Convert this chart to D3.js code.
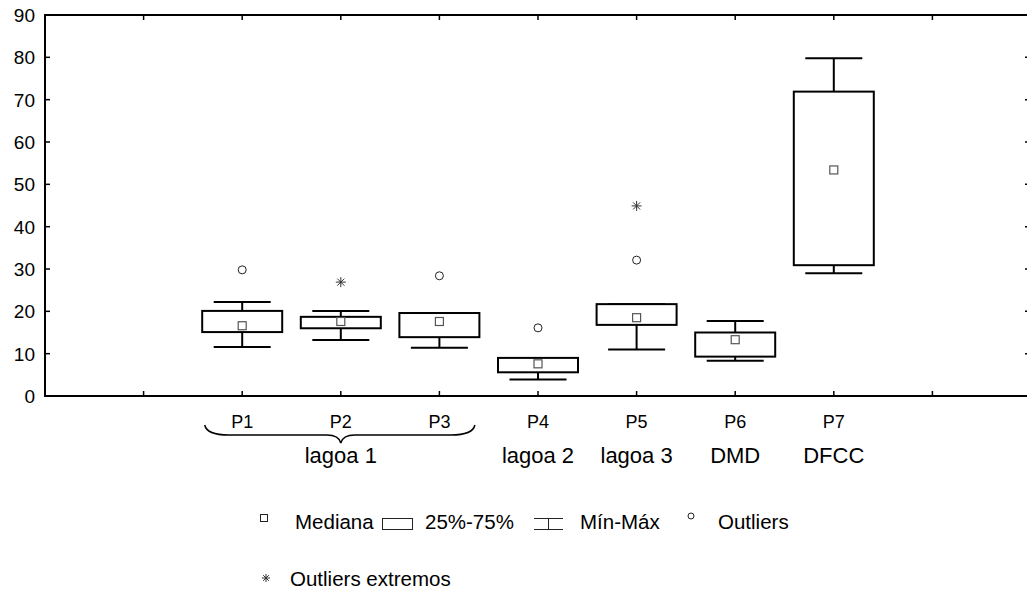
<!DOCTYPE html>
<html>
<head>
<meta charset="utf-8">
<script src="https://cdn.jsdelivr.net/npm/d3@7"></script>
<style>
  html, body { margin: 0; padding: 0; background: #fff; }
  svg { display: block; font-family: "Liberation Sans", Arial, sans-serif; }
</style>
</head>
<body>
<div id="chart"></div>
<script>
// box plot per sampling point
const points = ["P1", "P2", "P3", "P4", "P5", "P6", "P7"];
const groups = ["", "", "", "lagoa 2", "lagoa 3", "DMD", "DFCC"];
const minVals = [11.6, 13.2, 11.4, 3.9, 11.0, 8.3, 29.0];
const q1Vals = [15.1, 16.0, 13.9, 5.6, 16.8, 9.3, 30.9];
const medVals = [16.6, 17.6, 17.6, 7.6, 18.5, 13.3, 53.4];
const q3Vals = [20.1, 18.7, 19.6, 9.0, 21.7, 15.0, 71.9];
const maxVals = [22.2, 20.1, 19.6, 9.0, 21.7, 17.7, 79.8];
const outliers = [[29.8], [], [28.4], [16.1], [32.1], [], []];
const extremes = [[], [26.9], [], [], [44.9], [], []];
const yTicks = [0, 10, 20, 30, 40, 50, 60, 70, 80, 90];

(function () {
  const width = 1027;
  const height = 591;
  const left = 45, top = 15, bottom = 396, right = 1031;

  const svg = d3.select("#chart").append("svg")
    .attr("width", width).attr("height", height);

  const x = d3.scaleLinear().domain([0, 10]).range([left, right]);
  const y = d3.scaleLinear().domain([0, 90]).range([bottom, top]);
  const pos = (i) => x(i + 2);

  // frame
  svg.append("rect")
    .attr("x", left).attr("y", top)
    .attr("width", right - left).attr("height", bottom - top)
    .attr("fill", "none").attr("stroke", "#000").attr("stroke-width", 2);

  const tickX = d3.range(1, 10);
  svg.append("g").selectAll("line").data(tickX).join("line")
    .attr("x1", (d) => x(d)).attr("x2", (d) => x(d))
    .attr("y1", bottom).attr("y2", bottom - 5)
    .attr("stroke", "#000").attr("stroke-width", 1.5);
  svg.append("g").selectAll("line").data(tickX).join("line")
    .attr("x1", (d) => x(d)).attr("x2", (d) => x(d))
    .attr("y1", top).attr("y2", top + 5)
    .attr("stroke", "#000").attr("stroke-width", 1.5);

  svg.append("g").selectAll("line").data(yTicks.slice(1, -1)).join("line")
    .attr("x1", left).attr("x2", left + 5)
    .attr("y1", (d) => y(d)).attr("y2", (d) => y(d))
    .attr("stroke", "#000").attr("stroke-width", 1.5);
  svg.append("g").selectAll("line").data(yTicks.slice(1, -1)).join("line")
    .attr("x1", right).attr("x2", right - 6)
    .attr("y1", (d) => y(d)).attr("y2", (d) => y(d))
    .attr("stroke", "#000").attr("stroke-width", 1.5);

  svg.append("g").selectAll("text").data(yTicks).join("text")
    .attr("x", 35).attr("y", (d) => y(d) + 7)
    .attr("text-anchor", "end").attr("font-size", 19)
    .text((d) => d);

  // boxes
  const boxW = 80, capW = 57;
  const g = svg.append("g");
  points.forEach((p, i) => {
    const cx = pos(i);
    g.append("line")
      .attr("x1", cx).attr("x2", cx)
      .attr("y1", y(maxVals[i])).attr("y2", y(minVals[i]))
      .attr("stroke", "#000").attr("stroke-width", 2);
    [minVals[i], maxVals[i]].forEach((v) => {
      g.append("line")
        .attr("x1", cx - capW / 2).attr("x2", cx + capW / 2)
        .attr("y1", y(v)).attr("y2", y(v))
        .attr("stroke", "#000").attr("stroke-width", 2);
    });
    g.append("rect")
      .attr("x", cx - boxW / 2).attr("y", y(q3Vals[i]))
      .attr("width", boxW).attr("height", y(q1Vals[i]) - y(q3Vals[i]))
      .attr("fill", "#fff").attr("stroke", "#000").attr("stroke-width", 2);
    g.append("rect")
      .attr("x", cx - 4).attr("y", y(medVals[i]) - 4)
      .attr("width", 8).attr("height", 8)
      .attr("fill", "#fff").attr("stroke", "#555").attr("stroke-width", 1.2);
    outliers[i].forEach((v) => {
      g.append("circle").attr("cx", cx).attr("cy", y(v)).attr("r", 4)
        .attr("fill", "none").attr("stroke", "#222").attr("stroke-width", 1);
    });
    extremes[i].forEach((v) => {
      drawStar(g, cx, y(v), 5);
    });
  });

  function drawStar(sel, cx, cy, r) {
    const s = sel.append("g").attr("stroke", "#333").attr("stroke-width", 1);
    [0, 45, 90, 135].forEach((a) => {
      const rad = (a * Math.PI) / 180;
      s.append("line")
        .attr("x1", cx - r * Math.cos(rad)).attr("y1", cy - r * Math.sin(rad))
        .attr("x2", cx + r * Math.cos(rad)).attr("y2", cy + r * Math.sin(rad));
    });
  }

  // category labels
  svg.append("g").selectAll("text").data(points).join("text")
    .attr("x", (d, i) => pos(i)).attr("y", 428)
    .attr("text-anchor", "middle").attr("font-size", 18)
    .text((d) => d);
  svg.append("g").selectAll("text").data(groups).join("text")
    .attr("x", (d, i) => pos(i)).attr("y", 463)
    .attr("text-anchor", "middle").attr("font-size", 22)
    .text((d) => d);
  svg.append("text")
    .attr("x", pos(1)).attr("y", 463)
    .attr("text-anchor", "middle").attr("font-size", 22)
    .text("lagoa 1");

  // brace under P1-P3
  const bl = x(3 - 1.38), br = x(3 + 1.36), bc = x(3);
  const bt = 425, bm = 435, bb = 443;
  const brace = d3.path();
  brace.moveTo(bl, bt);
  brace.quadraticCurveTo(bl + 2, bm, bl + 24, bm);
  brace.lineTo(bc - 14, bm);
  brace.quadraticCurveTo(bc - 2, bm, bc, bb);
  brace.quadraticCurveTo(bc + 2, bm, bc + 14, bm);
  brace.lineTo(br - 24, bm);
  brace.quadraticCurveTo(br - 2, bm, br, bt);
  svg.append("path").attr("d", brace.toString())
    .attr("fill", "none").attr("stroke", "#000").attr("stroke-width", 1.5);

  // legend
  const lg = svg.append("g").attr("font-size", 20.5);
  lg.append("rect").attr("x", 260.5).attr("y", 514.5).attr("width", 7).attr("height", 7)
    .attr("fill", "#fff").attr("stroke", "#222").attr("stroke-width", 1);
  lg.append("text").attr("x", 295).attr("y", 529).text("Mediana");
  lg.append("rect").attr("x", 382.5).attr("y", 518.5).attr("width", 30).attr("height", 11)
    .attr("fill", "#fff").attr("stroke", "#222").attr("stroke-width", 1);
  lg.append("text").attr("x", 425).attr("y", 529).text("25%-75%");
  const mm = lg.append("g").attr("stroke", "#222").attr("stroke-width", 1);
  mm.append("line").attr("x1", 534).attr("x2", 563).attr("y1", 518.5).attr("y2", 518.5);
  mm.append("line").attr("x1", 548.5).attr("x2", 548.5).attr("y1", 518.5).attr("y2", 529.5);
  mm.append("line").attr("x1", 534).attr("x2", 563).attr("y1", 529.5).attr("y2", 529.5);
  lg.append("text").attr("x", 580).attr("y", 529).text("Mín-Máx");
  lg.append("circle").attr("cx", 691).attr("cy", 516).attr("r", 3)
    .attr("fill", "none").attr("stroke", "#222").attr("stroke-width", 1);
  lg.append("text").attr("x", 718).attr("y", 529).text("Outliers");
  drawStar(lg, 266, 578, 4);
  lg.append("text").attr("x", 290).attr("y", 586).text("Outliers extremos");
})();
</script>
</body>
</html>
